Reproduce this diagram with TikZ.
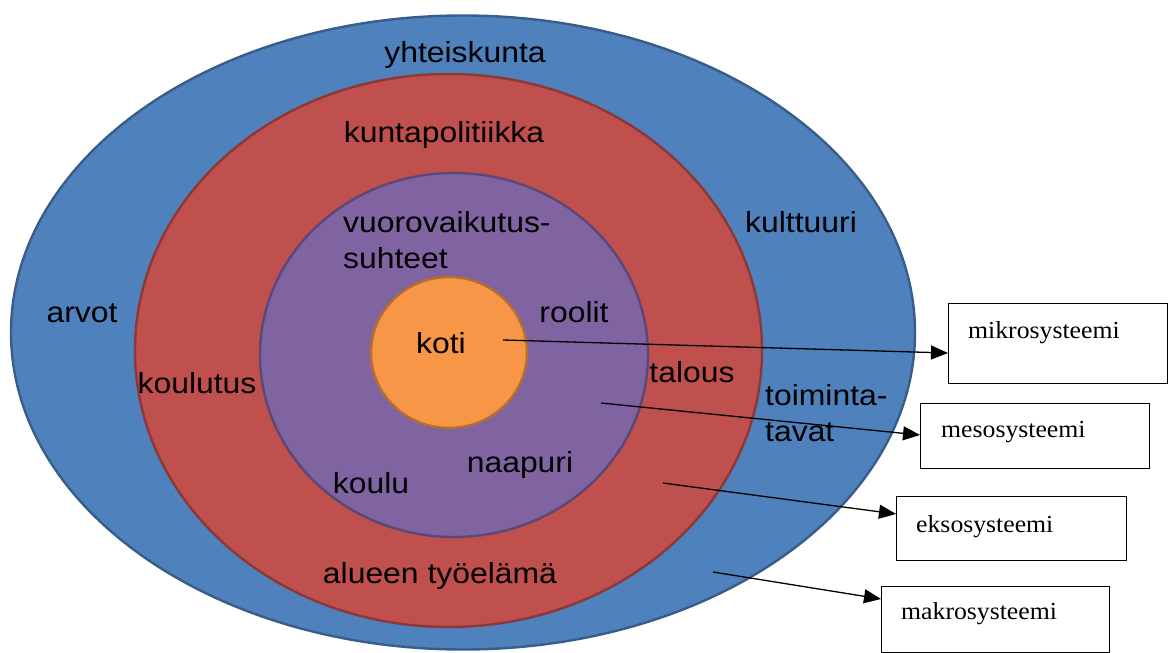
\documentclass[tikz,border=0pt]{standalone}
\usepackage{fontspec}
\setmainfont[FakeStretch=1.05]{Liberation Serif}
\newfontfamily\arialf[FakeStretch=1.1]{Liberation Sans}
\usetikzlibrary{arrows.meta}
\definecolor{bluefill}{RGB}{79,129,189}
\definecolor{blueline}{RGB}{56,93,138}
\definecolor{redfill}{RGB}{192,80,77}
\definecolor{redline}{RGB}{140,56,54}
\definecolor{purplefill}{RGB}{128,100,162}
\definecolor{purpleline}{RGB}{92,71,118}
\definecolor{orangefill}{RGB}{247,150,70}
\definecolor{orangeline}{RGB}{182,109,49}
\tikzset{
  ring/.style={line width=2.4pt},
  lbl/.style={font=\arialf\fontsize{29}{36}\selectfont, inner sep=0pt, text=black},
  sysbox/.style={draw=black, line width=1.4pt, fill=white, inner sep=0pt},
  systext/.style={font=\fontsize{24.5}{28}\selectfont, inner sep=0pt, anchor=base west},
  pointer/.style={line width=1.3pt, -{Triangle[length=17pt,width=14pt]}}
}
\begin{document}
\begin{tikzpicture}[x=1pt,y=-1pt]
\useasboundingbox (0,0) rectangle (1168,653);
% nested ellipses
\draw[ring, draw=blueline, fill=bluefill] (463,332.5) ellipse [x radius=452pt, y radius=317pt];
\draw[ring, draw=redline, fill=redfill] (448.5,350.5) ellipse [x radius=313.5pt, y radius=276.5pt];
\draw[ring, draw=purpleline, fill=purplefill] (454,355) ellipse [x radius=194pt, y radius=182pt];
\draw[ring, draw=orangeline, fill=orangefill] (449,352.5) ellipse [x radius=78pt, y radius=75.5pt];
% labels
\node[lbl, anchor=base] (yht) at (465,62) {yhteiskunta};
\node[lbl, anchor=base] (kunta) at (444,142) {kuntapolitiikka};
\node[lbl, anchor=north west, align=left] (vuoro) at (343,211) {vuorovaikutus-\\suhteet};
\node[lbl, anchor=base] (arvot) at (82,322) {arvot};
\node[lbl, anchor=base] (koulutus) at (197,393) {koulutus};
\node[lbl, anchor=base] (koti) at (441,353) {koti};
\node[lbl, anchor=base] (roolit) at (574,322) {roolit};
\node[lbl, anchor=base] (naapuri) at (520,472) {naapuri};
\node[lbl, anchor=base] (koulu) at (371,493) {koulu};
\node[lbl, anchor=base] (talous) at (692,382) {talous};
\node[lbl, anchor=base] (kult) at (801,232) {kulttuuri};
\node[lbl, anchor=north west, align=left] (toim) at (765,384) {toiminta-\\tavat};
\node[lbl, anchor=base] (tyo) at (440,583) {alueen työelämä};
% boxes
\node[sysbox, anchor=north west, minimum width=219pt, minimum height=80pt] (mikro) at (948,303) {};
\node[systext] (mikrot) at (968,338) {mikrosysteemi};
\node[sysbox, anchor=north west, minimum width=229pt, minimum height=65pt] (meso) at (920,403) {};
\node[systext] (mesot) at (941,437) {mesosysteemi};
\node[sysbox, anchor=north west, minimum width=230pt, minimum height=64pt] (ekso) at (896,496) {};
\node[systext] (eksot) at (916,532) {eksosysteemi};
\node[sysbox, anchor=north west, minimum width=228pt, minimum height=66pt] (makro) at (881,586) {};
\node[systext] (makrot) at (901,619) {makrosysteemi};
% pointer origins
\coordinate (pmikro) at (503,340);
\coordinate (pmeso) at (601,403);
\coordinate (pekso) at (663,483);
\coordinate (pmakro) at (713,572);
\draw[pointer] (pmikro) -- (mikro.west |- 0,353);
\draw[pointer] (pmeso) -- (meso.west |- 0,435);
\draw[pointer] (pekso) -- (ekso.west |- 0,514);
\draw[pointer] (pmakro) -- (makro.west |- 0,599);
\end{tikzpicture}
\end{document}
